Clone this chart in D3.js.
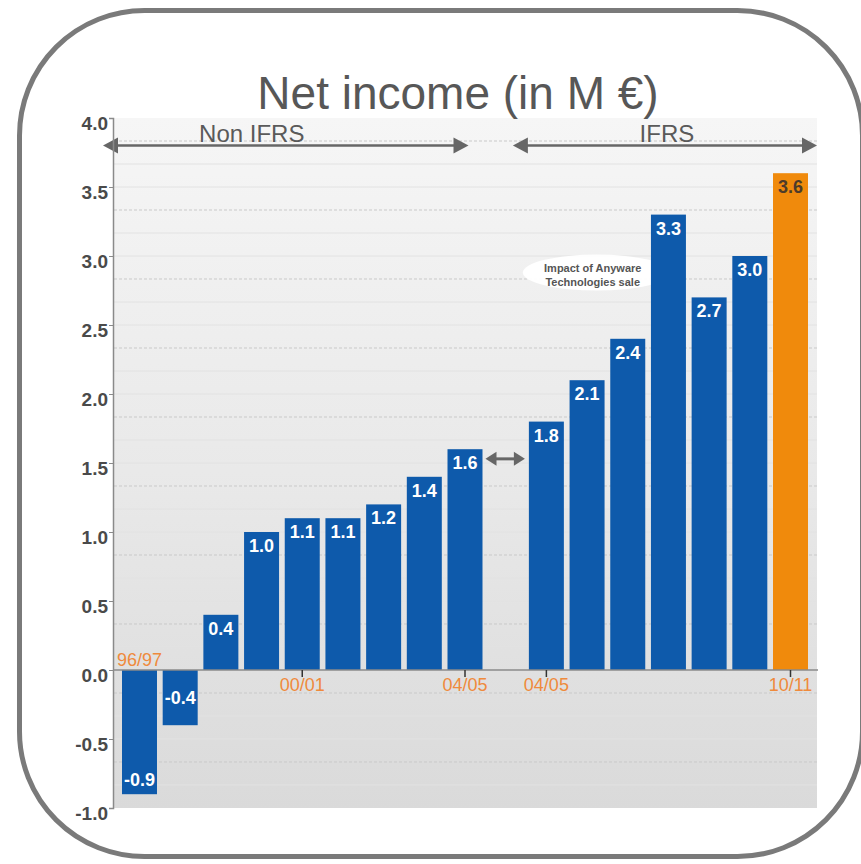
<!DOCTYPE html>
<html>
<head>
<meta charset="utf-8">
<script src="https://cdn.jsdelivr.net/npm/d3@7"></script>
<style>
  html, body { margin: 0; padding: 0; background: #ffffff; }
  svg { display: block; }
</style>
</head>
<body>
<script>
// ---------- data ----------
const nonIfrsYears  = ["96/97","97/98","98/99","99/00","00/01","01/02","02/03","03/04","04/05"];
const nonIfrsValues = [-0.9, -0.4, 0.4, 1.0, 1.1, 1.1, 1.2, 1.4, 1.6];
const ifrsYears     = ["04/05","05/06","06/07","07/08","08/09","09/10","10/11"];
const ifrsValues    = [1.8, 2.1, 2.4, 3.3, 2.7, 3.0, 3.6];
const nonIfrsTickLabels = ["96/97","00/01","04/05"];
const ifrsTickLabels    = ["04/05","10/11"];
const yTickValues = [-1.0,-0.5,0.0,0.5,1.0,1.5,2.0,2.5,3.0,3.5,4.0];
const highlightYear = "10/11";
const titleText = "Net income (in M €)";
const groupLabels = ["Non IFRS", "IFRS"];
const noteLines = ["Impact of Anyware", "Technologies sale"];

// ---------- build records ----------
const bars = [
  ...nonIfrsYears.map((y, i) => ({ key: "N" + y, year: y, value: nonIfrsValues[i], group: "non" })),
  ...ifrsYears.map((y, i) => ({ key: "I" + y, year: y, value: ifrsValues[i], group: "ifrs" }))
];
const domain = [...nonIfrsYears.map(y => "N" + y), "gap", ...ifrsYears.map(y => "I" + y)];

const W = 861, H = 864;
const plot = { left: 113, right: 817, top: 118, bottom: 808 };

const svg = d3.select("body").append("svg").attr("width", W).attr("height", H);
const font = "'Liberation Sans', Arial, Helvetica, sans-serif";

const x = d3.scaleBand().domain(domain).range([119.15, 810.85]).paddingInner(0.14).paddingOuter(0.07);
const y = d3.scaleLinear().domain([-1, 4]).range([plot.bottom, plot.top]);
const xc = k => x(k) + x.bandwidth() / 2;

// ---------- defs ----------
const defs = svg.append("defs");
const grad = defs.append("linearGradient").attr("id", "bg").attr("x1", 0).attr("x2", 0).attr("y1", 0).attr("y2", 1);
grad.append("stop").attr("offset", "0%").attr("stop-color", "#f6f6f6");
grad.append("stop").attr("offset", "55%").attr("stop-color", "#e8e8e8");
grad.append("stop").attr("offset", "100%").attr("stop-color", "#dadada");

// ---------- plot background ----------
svg.append("rect")
  .attr("x", plot.left).attr("y", plot.top)
  .attr("width", plot.right - plot.left).attr("height", plot.bottom - plot.top)
  .attr("fill", "url(#bg)");

// gridlines every 1/6
const gridVals = d3.range(-5, 24).map(k => ({ k, v: k / 6 }));
svg.append("g").selectAll("line").data(gridVals).join("line")
  .attr("x1", plot.left + 1).attr("x2", plot.right)
  .attr("y1", d => y(d.v)).attr("y2", d => y(d.v))
  .attr("stroke", d => (((d.k % 3) + 3) % 3 === 2) ? "#c9c9c9" : "#e2e2e2")
  .attr("stroke-width", 1)
  .attr("stroke-dasharray", d => (((d.k % 3) + 3) % 3 === 2) ? "3,2" : null);

// ---------- title ----------
svg.append("text")
  .attr("x", 458).attr("y", 109)
  .attr("text-anchor", "middle")
  .attr("font-family", font).attr("font-size", 46)
  .attr("fill", "#575757")
  .text(titleText);

// ---------- group arrows ----------
function arrowLine(x1, x2, yy, head, half, width) {
  const g = svg.append("g").attr("fill", "#666").attr("stroke", "#666");
  g.append("line").attr("x1", x1 + head - 2).attr("x2", x2 - head + 2)
    .attr("y1", yy).attr("y2", yy).attr("stroke-width", width);
  g.append("path").attr("stroke", "none")
    .attr("d", `M${x1},${yy} L${x1 + head},${yy - half} L${x1 + head},${yy + half} Z`);
  g.append("path").attr("stroke", "none")
    .attr("d", `M${x2},${yy} L${x2 - head},${yy - half} L${x2 - head},${yy + half} Z`);
}
const arrowY = y(3.8);
const nonLast = "N" + nonIfrsYears[nonIfrsYears.length - 1];
const ifrsFirst = "I" + ifrsYears[0];
arrowLine(plot.left - 10, x(nonLast) + x.bandwidth() - 14, arrowY, 15, 8, 2.5);
arrowLine(x(ifrsFirst) - 16, plot.right, arrowY, 15, 8, 2.5);

svg.append("text").attr("x", (plot.left - 10 + x(nonLast) + x.bandwidth() - 14) / 2 - 34).attr("y", arrowY - 4)
  .attr("text-anchor", "middle").attr("font-family", font).attr("font-size", 24).attr("fill", "#5a5a5a")
  .text(groupLabels[0]);
svg.append("text").attr("x", (x(ifrsFirst) - 16 + plot.right) / 2 + 2).attr("y", arrowY - 4)
  .attr("text-anchor", "middle").attr("font-family", font).attr("font-size", 24).attr("fill", "#5a5a5a")
  .text(groupLabels[1]);

// ---------- note ellipse (behind bars) ----------
const noteCx = xc("I06/07") - 31, noteCy = y(2.88);
svg.append("ellipse").attr("cx", noteCx).attr("cy", noteCy).attr("rx", 74).attr("ry", 18)
  .attr("fill", "#ffffff").attr("opacity", 0.95);
svg.append("g").selectAll("text").data(noteLines).join("text")
  .attr("x", noteCx - 4).attr("y", (d, i) => noteCy - 1 + i * 14)
  .attr("text-anchor", "middle").attr("font-family", font).attr("font-weight", "bold")
  .attr("font-size", 11).attr("fill", "#555")
  .text(d => d);

// ---------- bars ----------
const blue = "#0e5aab", orange = "#f08a0c";
svg.append("g").selectAll("rect").data(bars).join("rect")
  .attr("x", d => x(d.key))
  .attr("width", x.bandwidth())
  .attr("y", d => y(Math.max(0, d.value)))
  .attr("height", d => Math.abs(y(d.value) - y(0)))
  .attr("fill", d => (d.group === "ifrs" && d.year === highlightYear) ? orange : blue);

// value labels
svg.append("g").selectAll("text").data(bars).join("text")
  .attr("x", d => xc(d.key))
  .attr("y", d => {
    if (d.value >= 0) return y(d.value) + 20;
    const h = y(d.value) - y(0);
    return h > 80 ? y(d.value) - 8 : (y(0) + y(d.value)) / 2 + 6;
  })
  .attr("text-anchor", "middle").attr("font-family", font).attr("font-weight", "bold")
  .attr("font-size", 18)
  .attr("fill", d => (d.group === "ifrs" && d.year === highlightYear) ? "#4d3b2a" : "#ffffff")
  .text(d => d.value.toFixed(1));

// ---------- axes ----------
// zero line
svg.append("line").attr("x1", plot.left).attr("x2", plot.right + 1)
  .attr("y1", y(0)).attr("y2", y(0)).attr("stroke", "#8a8a8a").attr("stroke-width", 1.5);

const yAxis = d3.axisLeft(y).tickValues(yTickValues).tickSize(4).tickFormat(d => d.toFixed(1));
const gy = svg.append("g").attr("transform", `translate(${plot.left},0)`).call(yAxis);
gy.select(".domain").attr("stroke", "#8a8a8a").attr("stroke-width", 1.5);
gy.selectAll(".tick line").attr("stroke", "#8a8a8a");
gy.selectAll(".tick text")
  .attr("font-family", font).attr("font-weight", "bold").attr("font-size", 19)
  .attr("fill", "#4a4a4a").attr("x", -5).attr("dy", "0.62em");

// x tick labels
const xTicks = [
  ...nonIfrsTickLabels.map(t => ({ key: "N" + t, year: t })),
  ...ifrsTickLabels.map(t => ({ key: "I" + t, year: t }))
];
const valueOf = k => bars.find(b => b.key === k).value;
svg.append("g").selectAll("line").data(xTicks.filter(t => valueOf(t.key) >= 0)).join("line")
  .attr("x1", d => xc(d.key)).attr("x2", d => xc(d.key))
  .attr("y1", y(0)).attr("y2", y(0) + 7)
  .attr("stroke", "#333").attr("stroke-width", 1.5);
svg.append("g").selectAll("text").data(xTicks).join("text")
  .attr("x", d => xc(d.key) + (d.year === ifrsTickLabels[ifrsTickLabels.length - 1] && d.key[0] === "I" ? 0 : 0))
  .attr("y", d => valueOf(d.key) < 0 ? y(0) - 4 : y(0) + 21)
  .attr("text-anchor", "middle").attr("font-family", font).attr("font-size", 18)
  .attr("fill", "#ef8a3c")
  .text(d => d.year);

// ---------- double arrow between the two groups ----------
(function () {
  const x1 = x(nonLast) + x.bandwidth() + 3;
  const x2 = x(ifrsFirst) - 4;
  const yy = y(1.53);
  const g = svg.append("g").attr("fill", "#666");
  g.append("line").attr("x1", x1 + 8).attr("x2", x2 - 8).attr("y1", yy).attr("y2", yy)
    .attr("stroke", "#666").attr("stroke-width", 3);
  g.append("path").attr("d", `M${x1},${yy} L${x1 + 11},${yy - 7} L${x1 + 11},${yy + 7} Z`);
  g.append("path").attr("d", `M${x2},${yy} L${x2 - 11},${yy - 7} L${x2 - 11},${yy + 7} Z`);
})();

// ---------- rounded frame ----------
svg.append("rect")
  .attr("x", 19.5).attr("y", 10.5).attr("width", 843).attr("height", 846)
  .attr("rx", 125).attr("ry", 125)
  .attr("fill", "none").attr("stroke", "#7a7a7a").attr("stroke-width", 5);
</script>
</body>
</html>
